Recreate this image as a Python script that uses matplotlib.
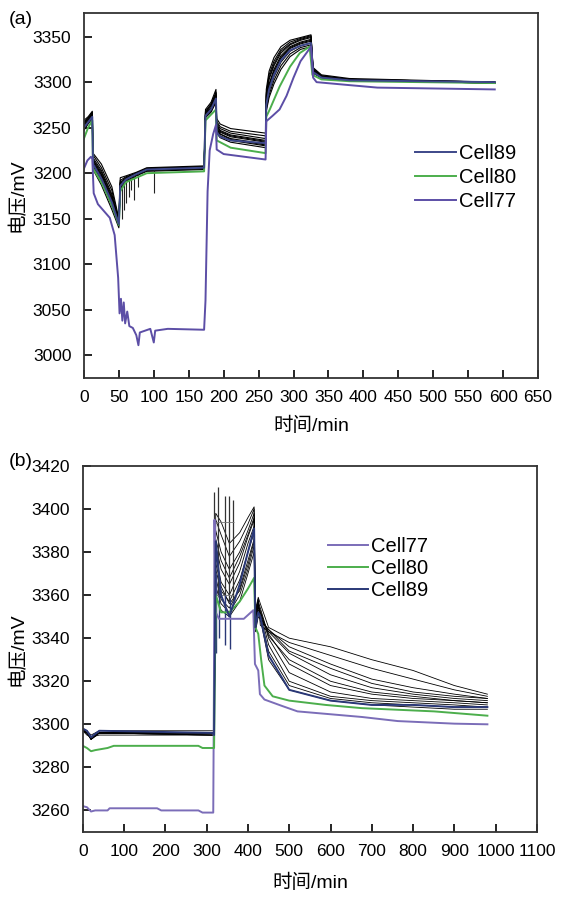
import numpy as np
import matplotlib.pyplot as plt

plt.rcParams['font.family'] = ['Liberation Sans', 'Noto Sans CJK SC', 'DejaVu Sans']

# ---------------- panel (a) data ----------------
t_black_a = [0, 6, 12, 13, 25, 40, 50, 52, 60, 75, 90, 172, 174, 182, 189, 190, 195, 210,
             260, 261, 265, 272, 282, 295, 310, 325, 328, 340, 380, 588]
black_a = [
    [3258, 3262, 3268, 3222, 3210, 3185, 3150, 3195, 3197, 3201, 3206, 3208, 3270, 3278, 3292, 3260, 3254, 3249,
     3244, 3292, 3312, 3327, 3339, 3346, 3349, 3352, 3316, 3308, 3304, 3300],
    [3256, 3261, 3266, 3220, 3206, 3181, 3148, 3192, 3196, 3200, 3205, 3207, 3268, 3276, 3289, 3257, 3251, 3246,
     3241, 3288, 3308, 3323, 3336, 3344, 3348, 3351, 3315, 3307, 3303, 3300],
    [3254, 3259, 3265, 3217, 3203, 3177, 3146, 3190, 3195, 3200, 3205, 3207, 3266, 3274, 3287, 3255, 3249, 3244,
     3238, 3284, 3303, 3318, 3332, 3341, 3346, 3349, 3314, 3307, 3303, 3300],
    [3252, 3258, 3264, 3214, 3199, 3173, 3145, 3188, 3194, 3199, 3204, 3206, 3265, 3272, 3285, 3253, 3247, 3242,
     3236, 3280, 3298, 3314, 3329, 3339, 3344, 3347, 3313, 3306, 3302, 3300],
    [3250, 3257, 3263, 3211, 3196, 3170, 3144, 3186, 3193, 3199, 3204, 3206, 3264, 3271, 3283, 3250, 3245, 3240,
     3234, 3276, 3294, 3310, 3326, 3337, 3342, 3345, 3312, 3306, 3302, 3299],
    [3249, 3256, 3262, 3208, 3193, 3167, 3143, 3185, 3192, 3198, 3203, 3205, 3263, 3269, 3281, 3248, 3243, 3238,
     3232, 3273, 3290, 3306, 3322, 3334, 3340, 3343, 3311, 3305, 3302, 3299],
    [3248, 3255, 3261, 3206, 3190, 3164, 3142, 3184, 3191, 3198, 3203, 3205, 3262, 3268, 3279, 3246, 3241, 3236,
     3230, 3270, 3286, 3302, 3318, 3331, 3338, 3341, 3310, 3305, 3302, 3299],
    [3247, 3254, 3260, 3204, 3187, 3160, 3140, 3183, 3190, 3197, 3202, 3204, 3261, 3267, 3278, 3244, 3239, 3234,
     3228, 3268, 3283, 3298, 3314, 3328, 3336, 3339, 3310, 3305, 3302, 3299],
    [3255, 3260, 3267, 3215, 3201, 3175, 3146, 3189, 3194, 3200, 3205, 3207, 3267, 3275, 3288, 3252, 3246, 3241,
     3235, 3286, 3305, 3320, 3334, 3342, 3347, 3350, 3314, 3306, 3303, 3300],
    [3251, 3257, 3263, 3212, 3198, 3171, 3144, 3187, 3193, 3199, 3204, 3206, 3264, 3271, 3284, 3249, 3243, 3237,
     3231, 3278, 3296, 3312, 3327, 3338, 3343, 3346, 3312, 3306, 3302, 3299],
]
cell89_a = [3250, 3256, 3262, 3210, 3194, 3168, 3144, 3186, 3193, 3199, 3204, 3206, 3263, 3270, 3282, 3245, 3240, 3236,
            3233, 3275, 3292, 3308, 3324, 3335, 3340, 3343, 3311, 3305, 3302, 3300]
t_cell80_a = [0, 6, 12, 13, 25, 40, 50, 52, 60, 90, 172, 174, 189, 190, 210, 260, 261, 266, 280, 295, 309, 323,
              327, 340, 380, 588]
cell80_a = [3238, 3250, 3258, 3205, 3190, 3165, 3143, 3180, 3190, 3200, 3202, 3258, 3270, 3236, 3228, 3222, 3262,
            3270, 3295, 3317, 3332, 3339, 3308, 3303, 3301, 3299]
t_cell77_a = [0, 5, 10, 12, 14, 20, 37, 44, 49, 51, 53, 55, 57, 59, 62, 65, 70, 75, 78, 80, 95, 100, 102, 120,
              172, 174, 177, 180, 185, 189, 190, 200, 260, 261, 270, 280, 290, 300, 310, 325, 328, 333, 376, 420, 588]
cell77_a = [3205, 3214, 3218, 3216, 3178, 3166, 3151, 3132, 3085, 3046, 3062, 3038, 3058, 3035, 3048, 3032, 3030,
            3022, 3011, 3025, 3029, 3014, 3027, 3029, 3028, 3060, 3180, 3225, 3243, 3253, 3226, 3221, 3215, 3257,
            3263, 3270, 3285, 3305, 3323, 3339, 3305, 3300, 3297, 3294, 3292]
spike_t_a = [54, 57, 60, 64, 68, 72, 78, 101]
spike_lo_a = [3150, 3160, 3167, 3174, 3182, 3171, 3185, 3178]
spike_hi_a = [3192, 3194, 3195, 3197, 3198, 3199, 3200, 3204]

# ---------------- panel (b) data ----------------
t_black_b = [0, 10, 20, 40, 315, 318, 322, 335, 355, 380, 400, 415, 418, 425, 430, 450, 500, 600, 700, 800, 900, 980]
black_b = [
    [3298, 3297, 3295, 3297, 3297, 3297, 3395, 3388, 3378, 3385, 3393, 3400, 3352, 3358, 3346, 3343, 3338, 3332, 3326, 3321, 3316, 3313],
    [3298, 3296, 3294, 3296, 3296, 3296, 3390, 3380, 3372, 3380, 3390, 3398, 3350, 3357, 3348, 3344, 3336, 3328, 3321, 3317, 3314, 3312],
    [3297, 3296, 3293, 3296, 3296, 3296, 3383, 3372, 3365, 3375, 3387, 3395, 3348, 3356, 3350, 3343, 3333, 3323, 3317, 3314, 3312, 3311],
    [3297, 3296, 3294, 3296, 3295, 3295, 3378, 3366, 3360, 3371, 3384, 3392, 3347, 3355, 3352, 3342, 3328, 3318, 3314, 3312, 3311, 3310],
    [3298, 3296, 3293, 3296, 3296, 3296, 3372, 3362, 3357, 3367, 3380, 3389, 3346, 3354, 3353, 3340, 3324, 3315, 3312, 3311, 3310, 3309],
    [3297, 3295, 3294, 3295, 3295, 3295, 3368, 3358, 3354, 3363, 3376, 3386, 3345, 3353, 3352, 3337, 3320, 3313, 3311, 3310, 3309, 3308],
    [3297, 3296, 3293, 3296, 3296, 3296, 3364, 3356, 3352, 3360, 3372, 3383, 3344, 3352, 3350, 3334, 3318, 3312, 3310, 3309, 3308, 3308],
    [3298, 3296, 3294, 3296, 3295, 3295, 3398, 3394, 3384, 3389, 3396, 3401, 3353, 3359, 3356, 3345, 3340, 3336, 3330, 3325, 3318, 3314],
    [3297, 3296, 3294, 3296, 3296, 3296, 3375, 3364, 3356, 3362, 3374, 3385, 3349, 3357, 3354, 3341, 3330, 3320, 3315, 3313, 3311, 3310],
    [3298, 3297, 3293, 3296, 3296, 3296, 3386, 3376, 3368, 3378, 3388, 3396, 3351, 3358, 3349, 3344, 3334, 3326, 3319, 3315, 3313, 3312],
    [3297, 3296, 3294, 3296, 3295, 3295, 3360, 3353, 3350, 3357, 3370, 3380, 3343, 3350, 3349, 3330, 3316, 3311, 3309, 3308, 3307, 3307],
]
cell89_b = [3298, 3297, 3294, 3297, 3296, 3295, 3385, 3360, 3350, 3365, 3380, 3391, 3345, 3352, 3350, 3332, 3316, 3311,
            3309, 3309, 3308, 3308]
t_cell80_b = [0, 10, 20, 30, 60, 75, 280, 290, 315, 318, 322, 335, 355, 380, 400, 415, 418, 425, 432, 440, 460, 500,
              588, 676, 851, 980]
cell80_b = [3290, 3289, 3287.5, 3288, 3289, 3290, 3290, 3289, 3289, 3289, 3360, 3352, 3352, 3357, 3363, 3368, 3345,
            3342, 3330, 3318, 3313, 3311, 3309, 3307.5, 3306, 3304]
t_cell77_b = [0, 10, 20, 30, 60, 65, 180, 190, 280, 290, 316, 318, 319, 322, 330, 390, 413, 417, 425, 429, 440, 483,
              520, 676, 763, 900, 980]
cell77_b = [3262, 3261.5, 3259.5, 3260, 3260, 3261, 3261, 3260, 3260, 3259, 3259, 3330, 3395, 3352, 3349, 3349, 3353,
            3328, 3325, 3314, 3311.5, 3308.5, 3306, 3303.4, 3301.5, 3300.3, 3300]
spike_t_b = [317, 327, 344, 354, 363]
spike_hi_b = [3408, 3410, 3406, 3406, 3404]
spike_lo_b = [3358, 3360, 3358, 3357, 3358]
dip_t_b = [322, 330, 344, 356]
dip_lo_b = [3333, 3340, 3337, 3335]
dip_hi_b = [3370, 3365, 3360, 3358]

c89_a, c80, c77_a = '#3d4789', '#4cae4c', '#5c4ea6'
c77_b, c89_b = '#7b6db8', '#2a3877'

fig = plt.figure(figsize=(5.67, 9), dpi=100)
ax1 = fig.add_axes([0.148, 0.58, 0.801, 0.4056])
ax2 = fig.add_axes([0.146, 0.0756, 0.801, 0.4067])

# panel (a)
for v in black_a:
    ax1.plot(t_black_a, v, color='black', lw=0.8)
ax1.vlines(spike_t_a, spike_lo_a, spike_hi_a, color='#222222', lw=0.8)
ax1.plot(t_cell80_a, cell80_a, color=c80, lw=1.4, label='Cell80')
ax1.plot(t_black_a, cell89_a, color=c89_a, lw=1.4, label='Cell89')
ax1.plot(t_cell77_a, cell77_a, color=c77_a, lw=1.4, label='Cell77')
h, l = ax1.get_legend_handles_labels()
order = [l.index('Cell89'), l.index('Cell80'), l.index('Cell77')]
ax1.legend([h[i] for i in order], [l[i] for i in order], loc='center left', bbox_to_anchor=(0.69, 0.55),
           frameon=False, fontsize=14.5, handlelength=2.0, handletextpad=0.15, labelspacing=0.25)
ax1.set_xlim(0, 650)
ax1.set_ylim(2975, 3376)
ax1.set_xticks(np.arange(0, 651, 50))
ax1.set_yticks(np.arange(3000, 3351, 50))
ax1.set_xlabel('时间/min', fontsize=14, labelpad=8)
ax1.set_ylabel('电压/mV', fontsize=14, labelpad=4)

# panel (b)
for v in black_b:
    ax2.plot(t_black_b, v, color='black', lw=0.6)
ax2.vlines(spike_t_b, spike_lo_b, spike_hi_b, color='#333333', lw=0.9)
ax2.hlines([3394, 3360], 318, 366, color='#777777', lw=0.6)
ax2.vlines(dip_t_b, dip_lo_b, dip_hi_b, color=c89_b, lw=1.0)
ax2.plot(t_cell77_b, cell77_b, color=c77_b, lw=1.4, label='Cell77')
ax2.plot(t_cell80_b, cell80_b, color=c80, lw=1.4, label='Cell80')
ax2.plot(t_black_b, cell89_b, color=c89_b, lw=1.4, label='Cell89')
ax2.legend(loc='center left', bbox_to_anchor=(0.5, 0.72), frameon=False, fontsize=14.5,
           handlelength=2.0, handletextpad=0.15, labelspacing=0.15)
ax2.set_xlim(0, 1100)
ax2.set_ylim(3250, 3420)
ax2.set_xticks(np.arange(0, 1101, 100))
ax2.set_yticks(np.arange(3260, 3421, 20))
ax2.set_xlabel('时间/min', fontsize=14, labelpad=10)
ax2.set_ylabel('电压/mV', fontsize=14, labelpad=4)

for ax in (ax1, ax2):
    ax.tick_params(direction='in', length=6, width=1.2, labelsize=12.5, top=False, right=False, pad=9)
    for s in ax.spines.values():
        s.set_linewidth(1.3)
        s.set_color('#333333')

fig.text(0.016, 0.988, '(a)', fontsize=14, va='top')
fig.text(0.016, 0.497, '(b)', fontsize=14, va='top')

fig.savefig('out.png', dpi=100)
